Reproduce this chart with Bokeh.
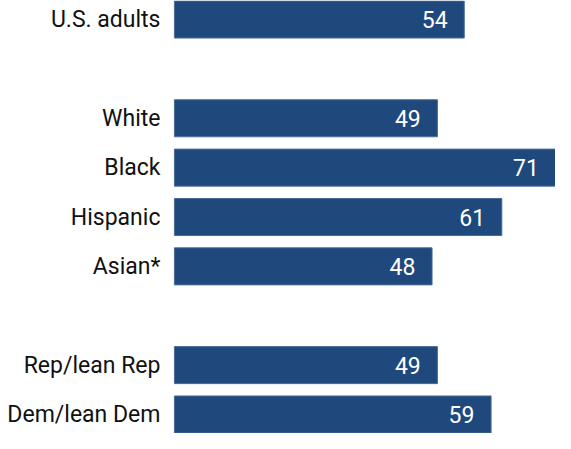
from bokeh.plotting import figure
from bokeh.models import ColumnDataSource, Range1d
from bokeh.core.properties import value
from bokeh.embed import file_html
from bokeh.resources import INLINE

categories = ["U.S. adults", "White", "Black", "Hispanic", "Asian*", "Rep/lean Rep", "Dem/lean Dem"]
values = [54, 49, 71, 61, 48, 49, 59]
rows = [0, 2, 3, 4, 5, 7, 8]

bar_color = "#1f487c"
font = "Roboto"

src = ColumnDataSource(dict(
    y=rows,
    val=values,
    lab=categories,
    txt=[str(v) for v in values],
    vx=[v - 3.1 for v in values],
    lx=[-2.6] * len(values),
))

p = figure(width=555, height=433, output_backend="svg", toolbar_location=None,
           x_range=Range1d(-32.4, 71), y_range=Range1d(8.385, -0.385),
           min_border=0, outline_line_color=None)
p.axis.visible = False
p.grid.visible = False
p.background_fill_color = "white"
p.border_fill_color = "white"

p.hbar(y="y", left=0, right="val", height=0.75, source=src,
       fill_color=bar_color, line_color="#4a6d99", line_width=1)

p.text(x="vx", y="y", text="txt", source=src, text_color="white",
       text_align="right", text_baseline="middle", text_font_size="23px",
       text_font=value(font))
p.text(x="lx", y="y", text="lab", source=src, text_color="#111111",
       text_align="right", text_baseline="middle", text_font_size="23px",
       text_font=value(font))

open("out.html", "w").write(file_html(p, INLINE))
